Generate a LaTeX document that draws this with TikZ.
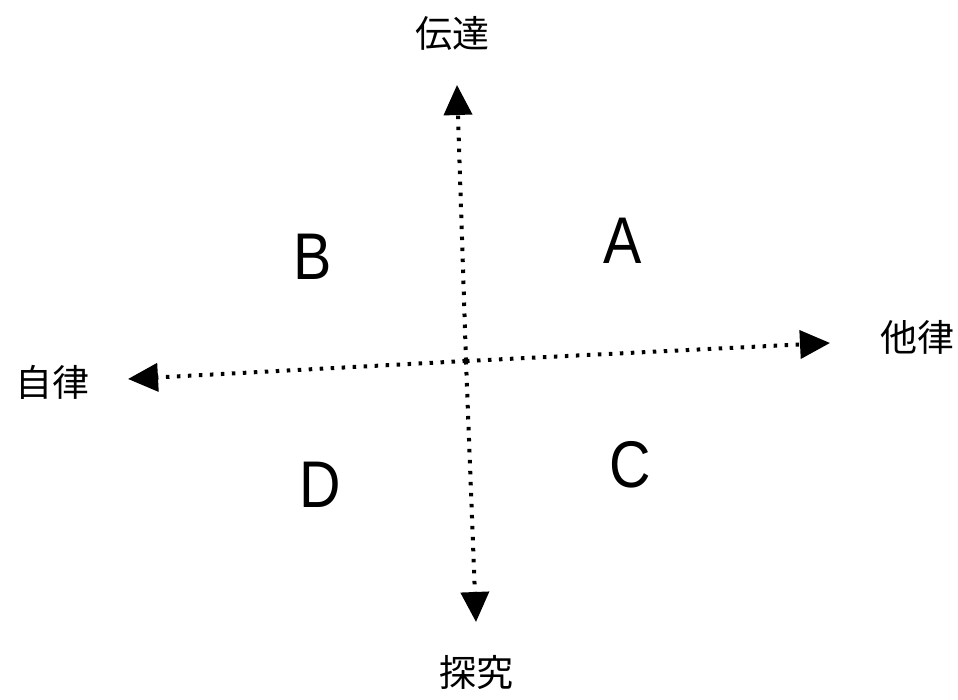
\documentclass[tikz,border=0pt]{standalone}
\usepackage{fontspec}
\setmainfont{Liberation Sans}
\newfontfamily\cjk{Noto Sans CJK JP}
\usetikzlibrary{arrows.meta}
\begin{document}
\begin{tikzpicture}[x=1pt,y=1pt,
  axis/.style={line width=4pt, dash pattern=on 3.5pt off 7.5pt,
    -{Triangle[length=30pt,width=28pt]}},
  cjklabel/.style={font=\cjk\fontsize{37}{37}\selectfont, inner sep=0pt},
  quad/.style={font=\fontsize{66}{66}\selectfont, inner sep=0pt, xscale=0.87}]
\useasboundingbox[fill=white] (0,0) rectangle (958,700);
\coordinate (top) at (457,615);
\coordinate (bottom) at (476,78);
\coordinate (left) at (128,321);
\coordinate (right) at (830,357);
\coordinate (center) at (466,339);
\draw[axis] (center) -- (top);
\draw[axis] (center) -- (bottom);
\draw[axis] (center) -- (left);
\draw[axis] (center) -- (right);
\node[cjklabel] (den) at (452,667) {伝達};
\node[cjklabel] (tan) at (476,28) {探究};
\node[cjklabel] (jir) at (52,318) {自律};
\node[cjklabel] (tar) at (917,363) {他律};
\node[quad] (A) at (623,459) {A};
\node[quad] (B) at (313,443) {B};
\node[quad] (C) at (630,235) {C};
\node[quad] (D) at (320,215) {D};
\end{tikzpicture}
\end{document}
